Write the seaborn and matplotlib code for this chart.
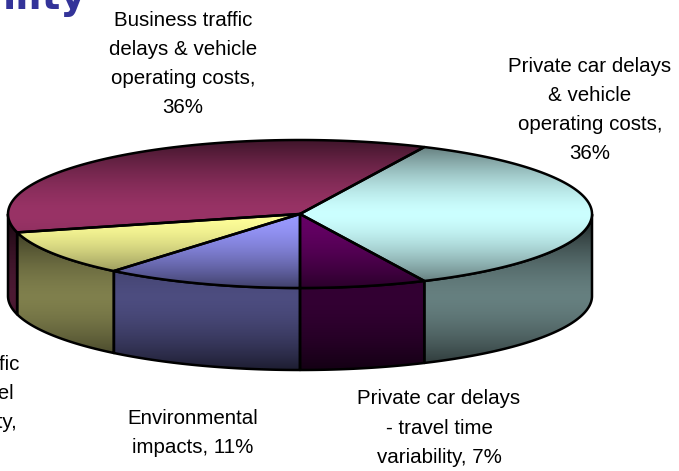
import numpy as np
import matplotlib
matplotlib.use("Agg")
import matplotlib.pyplot as plt
from matplotlib.colors import to_rgb
import seaborn as sns

labels = ["Private car delays\n& vehicle\noperating costs,\n36%",
          "Private car delays\n- travel time\nvariability, 7%",
          "Environmental\nimpacts, 11%",
          "Business traffic\ndelays - travel\ntime variability,\n10%",
          "Business traffic\ndelays & vehicle\noperating costs,\n36%"]
values = [36, 7, 11, 10, 36]
colors = ["#CCFFFF", "#660066", "#9999FF", "#FFFF99", "#993366"]
label_x = [590, 439, 193, -50, 183]
label_y = [110, 428, 433, 408, 64]
title_fragment = "ility"

W, H = 679, 471
CX, CY, RX, RY, DEPTH = 300, 214, 292, 74, 82
START = 64.8

sns.set_theme(style="white")
plt.rcParams["font.family"] = ["Liberation Sans", "DejaVu Sans"]
fig = plt.figure(figsize=(W / 100, H / 100), dpi=100)
ax = fig.add_axes([0, 0, 1, 1])

def shade_image(rgb, y0, y1, yc, half, lo, hi):
    ys = np.linspace(y0, y1, 256)
    t = np.clip(np.abs(ys - yc) / half, 0, 1)
    f = hi + (lo - hi) * t ** 1.6
    return (np.array(rgb)[None, None, :] * f[:, None, None]).clip(0, 1)

# Wedge angles are computed by the library from the values
wedges, _ = ax.pie(values, colors=colors, startangle=START, counterclock=False,
                   radius=1, frame=False)
patches_def = [(w.theta1, w.theta2) for w in wedges]
for w in wedges:
    w.remove()
ax.set_aspect("auto")
ax.set_xlim(0, W)
ax.set_ylim(H, 0)
ax.axis("off")

def pt(a):
    r = np.deg2rad(a)
    return CX + RX * np.cos(r), CY - RY * np.sin(r)

def draw_gradient(xs, ys, color, img_args, z):
    poly = plt.Polygon(np.c_[xs, ys], closed=True, fc="none", ec="black", lw=1.8,
                       joinstyle="round", zorder=z + 0.5)
    ax.add_patch(poly)
    y0, y1 = CY - RY - 2, CY + RY + DEPTH + 2
    im = ax.imshow(shade_image(to_rgb(color), y0, y1, *img_args),
                   extent=[0, W, y1, y0], aspect="auto", zorder=z,
                   interpolation="bilinear")
    clip = plt.Polygon(np.c_[xs, ys], closed=True, transform=ax.transData)
    im.set_clip_path(clip)

# Side walls: the visible lower half of the rim
for (t1, t2), c in zip(patches_def, colors):
    a = np.linspace(t1, t2, 300)
    vis = a[np.sin(np.deg2rad(a)) <= 0.0]
    if vis.size < 2:
        continue
    x, y = pt(vis)
    xs = np.r_[x, x[::-1]]
    ys = np.r_[y, y[::-1] + DEPTH]
    draw_gradient(xs, ys, c, (297, 75, 0.18, 0.50), 2)

# Top faces
for (t1, t2), c in zip(patches_def, colors):
    a = np.linspace(t1, t2, 300)
    x, y = pt(a)
    xs = np.r_[CX, x]
    ys = np.r_[CY, y]
    draw_gradient(xs, ys, c, (214, 74, 0.42, 1.0), 4)

ax.set_xlim(0, W)
ax.set_ylim(H, 0)

for lab, lx, ly in zip(labels, label_x, label_y):
    ax.text(lx, ly, lab, ha="center", va="center", fontsize=14.8, color="black",
            linespacing=1.68, clip_on=False, zorder=10)

ax.text(86, 9, title_fragment, ha="right", va="baseline", fontsize=28,
        fontweight="bold", family="DejaVu Sans", color="#333399", zorder=10)

fig.savefig("out.png", dpi=100)
